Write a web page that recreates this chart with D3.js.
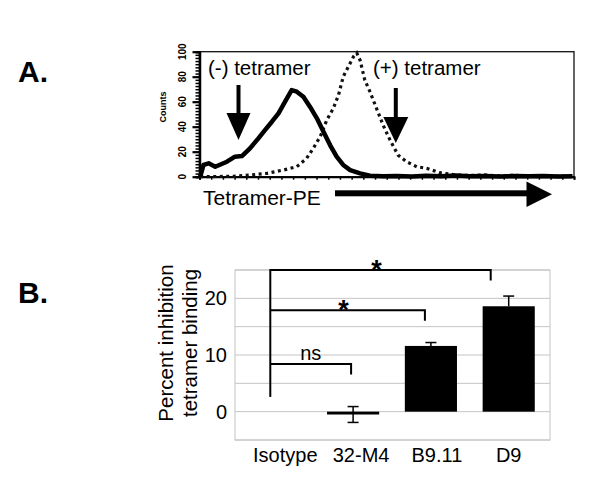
<!DOCTYPE html>
<html><head><meta charset="utf-8">
<script src="https://cdn.jsdelivr.net/npm/d3@7"></script>
<style>
html,body{margin:0;padding:0;background:#fff;}
text{font-family:"Liberation Sans",Arial,sans-serif;}
</style></head>
<body><svg id="c" width="600" height="487"></svg>
<script>
// ---------- Panel A data (channel, counts) ----------
const negChannels = [2,11,25,43,75,97,116,138,161,179,198,216,234,252,266,284,302,321,339,357,375,393,412,439,466,502,540,580,620,660,700,740,780,820,860,900,940,980,1020];
const negCounts   = [0,9.4,10.7,8,12,16,16.5,22.7,30.7,37.3,44,50.7,60,69.3,68,64,56,46.7,36,25.3,16,9.4,5.3,2.7,0.8,0.3,0.6,0.2,0.8,0.4,1,0.3,0.6,0.2,0.5,0.3,0.6,0.2,0.4];
const posChannels = [2,92,138,184,229,266,293,311,330,348,366,380,393,407,421,430,439,452,466,484,502,521,543,566,594,621,657,703,740,780,820,860,900,940,980,1020];
const posCounts   = [0,0.3,1.3,2.7,5.3,8,14.7,22.7,32,45.3,54.7,65.3,80,88,96,99,93.3,77.3,68,54.7,41.3,29.3,17.3,12,8,6.7,3.2,1.3,1.0,1.4,0.6,1.2,0.5,0.8,0.4,0.6];
const countTicks = [0,20,40,60,80,100];

// ---------- Panel B data ----------
const categories = ["Isotype","32-M4","B9.11","D9"];
const inhibition = [0,-0.5,11.6,18.6];
const inhibErr   = [0,1.4,0.6,1.8];
const inhibTicks = [0,10,20];
const brackets = [
  {to:"32-M4", level:8.4, label:"ns"},
  {to:"B9.11", level:17.9, label:"*"},
  {to:"D9", level:25, label:"*"}
];

const svg = d3.select("#c");

// ---------- Panel labels ----------
svg.append("text").attr("x",18).attr("y",82).attr("font-size",30).attr("font-weight","bold").text("A.");
svg.append("text").attr("x",18).attr("y",303).attr("font-size",30).attr("font-weight","bold").text("B.");

// ---------- Panel A ----------
const ax = d3.scaleLinear().domain([0,1024]).range([199.5,574]);
const ay = d3.scaleLinear().domain([0,100]).range([176.7,51.7]);

// frame
svg.append("rect").attr("x",199.5).attr("y",51.7).attr("width",574-199.5).attr("height",176.7-51.7)
  .attr("fill","none").attr("stroke","#111").attr("stroke-width",1.3);

// left axis: minor ticks
const gA = svg.append("g").attr("transform","translate(199.5,0)");
gA.call(d3.axisLeft(ay).tickValues(d3.range(0,100.1,2.5)).tickSize(4).tickFormat(""))
  .call(g=>g.select(".domain").attr("stroke-width",2.5))
  .call(g=>g.selectAll(".tick line").attr("stroke-width",1.5));
gA.append("g").call(d3.axisLeft(ay).tickValues(countTicks).tickSize(7).tickFormat(""))
  .call(g=>g.select(".domain").remove())
  .call(g=>g.selectAll(".tick line").attr("stroke-width",2.2));
countTicks.forEach(v=>{
  svg.append("text").attr("transform",`translate(186,${ay(v)}) rotate(-90)`)
    .attr("text-anchor","middle").attr("font-size",10).attr("font-weight","bold").text(v);
});
svg.append("text").attr("transform",`translate(166,107) rotate(-90)`)
  .attr("text-anchor","middle").attr("font-size",9).attr("font-weight","bold").text("Counts");

// bottom axis
const gB = svg.append("g").attr("transform","translate(0,176.7)");
gB.call(d3.axisBottom(ax).tickValues(d3.range(0,1025,32)).tickSize(3).tickFormat(""))
  .call(g=>g.select(".domain").attr("stroke-width",2))
  .call(g=>g.selectAll(".tick line").attr("stroke-width",1.5));

const negData = negChannels.map((c,i)=>[c,negCounts[i]]);
const posData = posChannels.map((c,i)=>[c,posCounts[i]]);
const lineA = d3.line().x(d=>ax(d[0])).y(d=>ay(d[1]));
svg.append("path").datum(posData).attr("d",lineA).attr("fill","none")
  .attr("stroke","#111").attr("stroke-width",3.2).attr("stroke-dasharray","3,3.5");
svg.append("path").datum(negData).attr("d",lineA).attr("fill","none")
  .attr("stroke","#000").attr("stroke-width",4.5).attr("stroke-linejoin","round");

// annotations
svg.append("text").attr("x",208).attr("y",75).attr("font-size",20.5).text("(-) tetramer");
svg.append("text").attr("x",373).attr("y",75).attr("font-size",20.5).text("(+) tetramer");
function downArrow(x, y0, yHead, yTip, hw){
  svg.append("line").attr("x1",x).attr("x2",x).attr("y1",y0).attr("y2",yHead+1)
    .attr("stroke","#000").attr("stroke-width",4);
  svg.append("path").attr("d",`M${x-hw},${yHead}L${x+hw},${yHead}L${x},${yTip}Z`).attr("fill","#000");
}
downArrow(238.5,85,113,140,12);
downArrow(395.8,88,117,143,12.5);
svg.append("text").attr("x",203).attr("y",205).attr("font-size",21).text("Tetramer-PE");
svg.append("rect").attr("x",335).attr("y",190.3).attr("width",193).attr("height",6).attr("fill","#000");
svg.append("path").attr("d","M526.5,181.5L552,194.2L526.5,207Z").attr("fill","#000");

// ---------- Panel B ----------
const bx = d3.scaleBand().domain(categories).range([236,548]).paddingInner(0.33).paddingOuter(0.17);
const by = d3.scaleLinear().domain([-5,25]).range([440,270]);
const left=235, right=550;

// gridlines
svg.append("g").selectAll("line").data(d3.range(-5,25.1,5)).join("line")
  .attr("x1",left).attr("x2",right).attr("y1",d=>by(d)).attr("y2",d=>by(d))
  .attr("stroke","#c4c4c4").attr("stroke-width",1);
svg.append("rect").attr("x",left).attr("y",by(25)).attr("width",right-left).attr("height",by(-5)-by(25))
  .attr("fill","none").attr("stroke","#c4c4c4").attr("stroke-width",1);

// y tick labels
svg.append("g").selectAll("text").data(inhibTicks).join("text")
  .attr("x",227).attr("y",d=>by(d)+7).attr("text-anchor","end").attr("font-size",20).text(d=>d);

// y title
svg.append("text").attr("transform",`translate(173,343) rotate(-90)`).attr("text-anchor","middle")
  .attr("font-size",20.5).text("Percent inhibition");
svg.append("text").attr("transform",`translate(197,343) rotate(-90)`).attr("text-anchor","middle")
  .attr("font-size",20.5).text("tetramer binding");

// bars
svg.append("g").selectAll("rect").data(categories).join("rect")
  .attr("x",d=>bx(d)).attr("width",bx.bandwidth())
  .attr("y",(d,i)=>by(Math.max(0,inhibition[i])))
  .attr("height",(d,i)=>Math.abs(by(inhibition[i])-by(0)))
  .attr("fill","#000");

// error bars
categories.forEach((c,i)=>{
  if(!inhibErr[i]) return;
  const cx = bx(c)+bx.bandwidth()/2;
  const v = inhibition[i], e = inhibErr[i];
  const both = v < 0;
  const y1 = by(v+e), y2 = both ? by(v-e) : by(v);
  svg.append("line").attr("x1",cx).attr("x2",cx).attr("y1",y1).attr("y2",y2).attr("stroke","#000").attr("stroke-width",1.5);
  svg.append("line").attr("x1",cx-5.5).attr("x2",cx+5.5).attr("y1",y1).attr("y2",y1).attr("stroke","#000").attr("stroke-width",1.5);
  if(both) svg.append("line").attr("x1",cx-5.5).attr("x2",cx+5.5).attr("y1",y2).attr("y2",y2).attr("stroke","#000").attr("stroke-width",1.5);
});

// category labels
svg.append("g").selectAll("text").data(categories).join("text")
  .attr("x",(d,i)=>bx(d)+bx.bandwidth()/2+[10,8,6,0][i]).attr("y",462).attr("text-anchor","middle")
  .attr("font-size",20).text(d=>d);

// significance brackets
const bx0 = bx("Isotype")+bx.bandwidth()/2-5;
const endOff = {"32-M4":-2,"B9.11":-6,"D9":-18};
svg.append("line").attr("x1",bx0).attr("x2",bx0).attr("y1",by(2.6)).attr("y2",by(25)-1)
  .attr("stroke","#000").attr("stroke-width",2);
brackets.forEach(b=>{
  const xe = bx(b.to)+bx.bandwidth()/2+endOff[b.to];
  const yl = by(b.level);
  svg.append("path").attr("d",`M${bx0},${yl}H${xe}V${yl+10.5}`).attr("fill","none")
    .attr("stroke","#000").attr("stroke-width",2);
  const mid = (bx0+xe)/2;
  if(b.label==="ns"){
    svg.append("text").attr("x",mid).attr("y",yl-4).attr("text-anchor","middle").attr("font-size",20).text("ns");
  } else {
    svg.append("text").attr("x",mid-4).attr("y",yl+9).attr("text-anchor","middle").attr("font-size",27)
      .attr("font-weight","bold").text("*");
  }
});
</script></body></html>
